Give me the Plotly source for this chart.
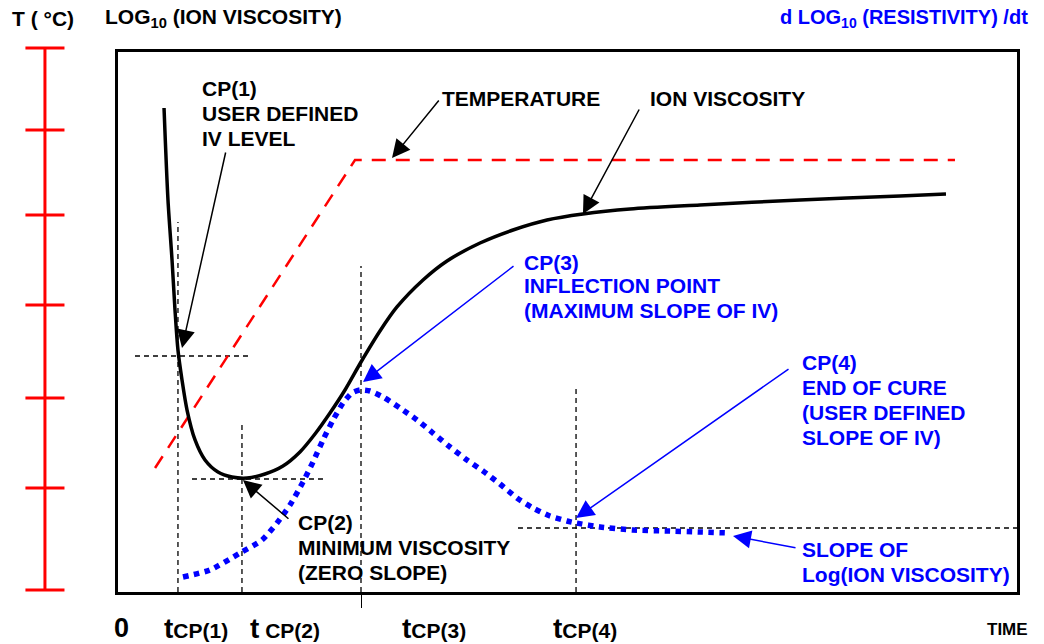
import plotly.graph_objects as go

# ---------------- data (time units 0-100, value units 0-100) ----------------
# Log10(ion viscosity) curve (black)
iv_t = [5.12, 5.56, 6.01, 6.34, 6.67, 7.12, 7.68, 8.57, 9.68, 11.12, 12.68, 14.35,
        16.35, 18.35, 20.24, 21.91, 23.58, 25.25, 27.03, 29.14, 31.03, 33.93, 36.60, 40.27,
        43.94, 47.72, 51.72, 56.95, 64.74, 75.86, 86.99, 92.10]
iv_v = [89.63, 72.59, 61.48, 52.22, 44.81, 39.26, 33.70, 28.15, 24.44, 22.22, 21.30, 21.11,
        21.85, 23.33, 25.93, 29.26, 33.15, 37.41, 42.59, 48.33, 52.78, 57.78, 61.30, 64.63,
        67.04, 68.89, 70.00, 70.93, 71.67, 72.59, 73.33, 73.70]

# Temperature profile (red dashed)
temp_t = [4.12, 26.36, 93.10]
temp_v = [22.96, 80.00, 80.00]

# Slope of log(ion viscosity) (blue dotted)
slope_t = [7.23, 10.23, 13.57, 16.02, 17.69, 19.13, 20.58, 21.69, 22.80, 23.92, 25.03,
           26.03, 26.92, 28.03, 29.48, 31.37, 33.26, 35.04, 36.93, 38.82, 40.60, 42.49,
           44.38, 46.16, 48.05, 49.94, 50.95, 53.62, 57.29, 61.07, 64.74, 67.96]
slope_v = [2.78, 4.07, 7.22, 9.63, 12.78, 16.11, 20.37, 24.07, 28.15, 31.85, 35.00,
           36.85, 37.41, 37.22, 36.11, 34.07, 31.85, 29.44, 26.85, 24.44, 22.41, 20.00,
           17.41, 15.56, 14.07, 13.15, 12.78, 12.04, 11.48, 11.30, 11.11, 10.93]

# Critical point times tCP(1)..tCP(4) and the tops of their guide lines
cp_t = [6.67, 13.79, 27.03, 50.95]
cp_top = [68.52, 30.93, 60.37, 38.33]

# Horizontal guide lines: level, start, end
h_level = [43.70, 20.93, 11.85]
h_start = [1.89, 8.23, 44.49]
h_end = [14.68, 23.03, 100.0]

# Temperature axis tick positions (red scale at left)
temp_ticks = [0.36, 18.98, 35.40, 52.37, 68.80, 84.31, 99.27]
temp_axis_x = 4.42
temp_tick_half = 1.92

bottom_labels = ["t CP(1)", "t CP(2)", "t CP(3)", "t CP(4)"]

# ---------------- figure ----------------
FONT = "Liberation Sans, Arial, Helvetica, sans-serif"
BLUE = "#0000ff"
RED = "#ff0000"

fig = go.Figure()

# guide lines
gx, gy = [], []
for t, top in zip(cp_t, cp_top):
    gx += [t, t, None]
    gy += [0, top, None]
for lv, s, e in zip(h_level, h_start, h_end):
    gx += [s, e, None]
    gy += [lv, lv, None]
fig.add_trace(go.Scatter(x=gx, y=gy, mode="lines",
                         line=dict(color="black", width=1.3, dash="5px,4px"),
                         hoverinfo="skip", showlegend=False))

fig.add_trace(go.Scatter(x=temp_t, y=temp_v, mode="lines",
                         line=dict(color=RED, width=2.5, dash="14px,10px"),
                         showlegend=False))
fig.add_trace(go.Scatter(x=iv_t, y=iv_v, mode="lines",
                         line=dict(color="black", width=3.5, shape="spline", smoothing=0.8),
                         showlegend=False))
fig.add_trace(go.Scatter(x=slope_t, y=slope_v, mode="lines",
                         line=dict(color=BLUE, width=5.5, dash="dot", shape="spline", smoothing=0.6),
                         showlegend=False))

# red temperature scale
rx, ry = [temp_axis_x, temp_axis_x, None], [temp_ticks[0], temp_ticks[-1], None]
for v in temp_ticks:
    rx += [temp_axis_x - temp_tick_half, temp_axis_x + temp_tick_half, None]
    ry += [v, v, None]
fig.add_trace(go.Scatter(x=rx, y=ry, mode="lines", xaxis="x2", yaxis="y2",
                         line=dict(color=RED, width=3), showlegend=False, hoverinfo="skip"))

ann = []


def txt(x, y, s, color="black", size=21, xanchor="left", xref="x", yref="y"):
    ann.append(dict(x=x, y=y, xref=xref, yref=yref, text=s, showarrow=False,
                    xanchor=xanchor, yanchor="middle",
                    font=dict(family=FONT, size=size, color=color, weight="bold")))


def arrow(x, y, ax, ay, color="black"):
    ann.append(dict(x=x, y=y, ax=ax, ay=ay, xref="x", yref="y", axref="x", ayref="y",
                    text="", showarrow=True, arrowhead=2, arrowsize=2.4,
                    arrowwidth=1.5, arrowcolor=color, standoff=0))


# black labels
txt(9.12, 93.33, "CP(1)")
txt(9.12, 88.70, "USER DEFINED")
txt(9.12, 84.07, "IV LEVEL")
txt(35.82, 91.48, "TEMPERATURE")
txt(58.95, 91.30, "ION VISCOSITY")
txt(19.80, 12.78, "CP(2)")
txt(19.80, 8.15, "MINIMUM VISCOSITY")
txt(19.80, 3.70, "(ZERO SLOPE)")
# blue labels
txt(44.94, 61.11, "CP(3)", BLUE)
txt(44.94, 56.67, "INFLECTION POINT", BLUE)
txt(44.94, 52.22, "(MAXIMUM SLOPE OF IV)", BLUE)
txt(75.86, 42.59, "CP(4)", BLUE)
txt(75.86, 37.96, "END OF CURE", BLUE)
txt(75.86, 33.33, "(USER DEFINED", BLUE)
txt(75.86, 28.70, "SLOPE OF IV)", BLUE)
txt(75.86, 7.96, "SLOPE OF", BLUE)
txt(75.86, 3.15, "Log(ION VISCOSITY)", BLUE)

# arrows
arrow(30.48, 80.37, 35.82, 91.30)
arrow(51.72, 70.00, 58.06, 89.63)
arrow(7.12, 45.19, 12.01, 81.67)
arrow(13.90, 20.74, 19.13, 13.33)
arrow(27.25, 38.89, 44.16, 60.56, BLUE)
arrow(50.95, 13.70, 74.75, 41.48, BLUE)
arrow(68.41, 10.37, 75.53, 8.15, BLUE)

# header texts (paper coords)
txt(0.0098, 1.0474, "T ( °C)", xref="paper", yref="paper")
txt(0.1013, 1.0474, "LOG<sub>10</sub> (ION VISCOSITY)", xref="paper", yref="paper")
txt(1.0128, 1.0474, "d LOG<sub>10</sub> (RESISTIVITY) /dt", color=BLUE, size=20,
    xanchor="right", xref="paper", yref="paper")

# bottom labels
txt(0.119, -0.0657, "0", size=27, xanchor="center", xref="paper", yref="paper")
bl_x = [0.1593, 0.2439, 0.3933, 0.5418]
for xp, lab in zip(bl_x, bottom_labels):
    t, rest = lab.split(" ", 1)
    sep = " " if lab == "t CP(2)" else ""
    txt(xp, -0.0657, "<span style='font-size:28px'>" + t + "</span>" + sep + rest,
        size=21, xref="paper", yref="paper")
txt(1.0128, -0.069, "TIME", size=17, xanchor="right", xref="paper", yref="paper")

fig.update_layout(
    width=1044, height=644,
    margin=dict(l=0, r=27, t=44, b=52),
    paper_bgcolor="white", plot_bgcolor="white",
    showlegend=False,
    annotations=ann,
    xaxis=dict(domain=[118 / 1017, 1], range=[0, 100], showline=True, mirror=True,
               linecolor="black", linewidth=2.5, showgrid=False, zeroline=False,
               showticklabels=False, ticks="outside", tickvals=[cp_t[2]],
               ticklen=13, tickwidth=1, tickcolor="black"),
    yaxis=dict(domain=[0, 540 / 548], range=[0, 100], showline=True, mirror=True,
               linecolor="black", linewidth=2.5, showgrid=False, zeroline=False,
               showticklabels=False, ticks=""),
    xaxis2=dict(domain=[0, 0.1], range=[0, 10], visible=False, anchor="y2"),
    yaxis2=dict(domain=[0, 1], range=[0, 100], visible=False, anchor="x2"),
)

fig.write_html("out.html", config={"displayModeBar": False},
               post_script="document.body.style.margin='0';")
